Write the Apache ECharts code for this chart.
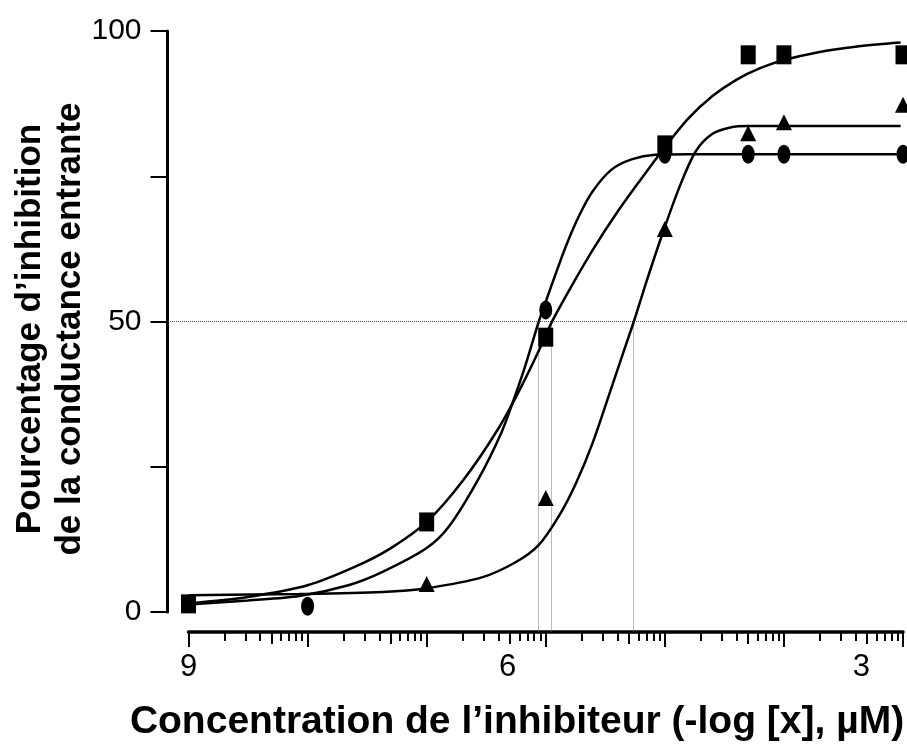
<!DOCTYPE html>
<html>
<head>
<meta charset="utf-8">
<script src="https://cdn.jsdelivr.net/npm/echarts@6/dist/echarts.min.js"></script>
<style>
  html, body { margin: 0; padding: 0; background: #fff; }
  #chart { width: 907px; height: 752px; }
</style>
</head>
<body>
<div id="chart"></div>
<script>
// -log concentration of the tested points
var doses = [9, 8, 7, 6, 5, 4.3, 4, 3];
// % inhibition, one value per dose (null = not visible)
var squareY   = [1.4, null, 15.5, 47.3, 80.4, 95.9, 95.9, 95.9];
var circleY   = [null, 1.0, null, 52.0, 78.8, 78.8, 78.8, 78.8];
var triangleY = [null, null, 4.8, 19.6, 65.9, 82.4, 84.3, 87.3];

// fitted curves [ -log, % ]
var squareFit = [[9.0,1.5],[8.5,2.6],[8.0,4.6],[7.6,7.8],[7.3,11.0],[7.0,15.5],[6.7,22.5],[6.4,31.5],
  [6.2,39.0],[6.0,47.5],[5.95,49.9],[5.8,55.5],[5.6,62.5],[5.4,68.8],[5.2,74.5],[5.0,80.0],
  [4.8,85.0],[4.6,88.8],[4.4,91.6],[4.2,93.6],[4.0,95.0],[3.7,96.4],[3.4,97.3],[3.02,98.0]];
var circleFit = [[9.0,1.3],[8.5,2.0],[8.07,2.75],[7.65,4.65],[7.37,6.9],[7.0,11.0],[6.81,14.8],
  [6.56,23.1],[6.37,31.0],[6.27,36.5],[6.17,42.5],[6.06,49.9],[6.0,53.4],[5.95,56.3],[5.83,63.0],
  [5.72,68.2],[5.61,72.3],[5.45,76.1],[5.28,77.9],[5.08,78.7],[4.8,78.8],[3.02,78.8]];
var triangleFit = [[9.0,2.9],[8.07,3.1],[7.37,3.45],[7.0,4.1],[6.53,6.0],[6.25,8.6],[6.06,11.5],[5.89,16.5],
  [5.75,22.0],[5.61,28.9],[5.45,38.5],[5.33,45.8],[5.26,50.0],[5.16,56.5],[5.03,64.5],[4.88,73.0],
  [4.74,79.3],[4.6,82.3],[4.45,83.4],[4.3,83.65],[3.99,83.65],[3.02,83.65]];

// dose giving 50 % for each curve (circle, square, triangle)
var ic50 = [6.06, 5.95, 5.26];
// 50 % guide line, from the y axis to the right edge
var halfLine = [[9.17, 50], [2.96, 50]];
var ic50Bottom = -3.44;

var xTickLabels = ['9', '6', '3'];
var xTickLabelAt = [9, 6.32, 3.35];
var yTickLabels = [0, 50, 100];

var font = 'Liberation Sans, Arial, sans-serif';

// log-decade ticks on the concentration axis
var majorTicks = [], midTicks = [], minorTicks = [];
for (var d = 9; d >= 3; d--) {
  majorTicks.push(d);
  if (d === 3) break;
  for (var k = 2; k <= 9; k++) {
    var v = d - Math.log10(k);
    if (k === 5) midTicks.push(v); else minorTicks.push(v);
  }
}

function pairs(ys) {
  var out = [];
  for (var i = 0; i < doses.length; i++) if (ys[i] != null) out.push([doses[i], ys[i]]);
  return out;
}

function xAxisBase() {
  return {
    type: 'value', min: 3, max: 9, inverse: true, position: 'bottom', offset: 20,
    splitLine: { show: false },
    axisLine: { show: false, onZero: false },
    axisLabel: { show: false },
    axisTick: { show: true, lineStyle: { color: '#000', width: 2 } }
  };
}

var ax0 = xAxisBase();
ax0.axisLine = { show: true, onZero: false, lineStyle: { color: '#000', width: 3.5 } };
ax0.axisTick.customValues = majorTicks;
ax0.axisTick.length = 15;
ax0.axisLabel = {
  show: true, customValues: xTickLabelAt, margin: 20, color: '#000',
  fontSize: 31, fontFamily: font,
  formatter: function (val) {
    for (var i = 0; i < xTickLabelAt.length; i++) if (Math.abs(val - xTickLabelAt[i]) < 1e-6) return xTickLabels[i];
    return '';
  }
};
var ax1 = xAxisBase();
ax1.axisTick.customValues = midTicks;
ax1.axisTick.length = 12;
var ax2 = xAxisBase();
ax2.axisTick.customValues = minorTicks;
ax2.axisTick.length = 9;

var curveStyle = { color: '#000', width: 2.5 };
var chart = echarts.init(document.getElementById('chart'));

var option = {
  animation: false,
  backgroundColor: '#fff',
  grid: { left: 188.5, right: 4, top: 31, bottom: 140, containLabel: false },
  xAxis: [ax0, ax1, ax2],
  yAxis: {
    type: 'value', min: 0, max: 100, interval: 25, offset: 21,
    splitLine: { show: false },
    axisLine: { show: true, onZero: false, lineStyle: { color: '#000', width: 3 } },
    axisTick: { show: true, length: 17, lineStyle: { color: '#000', width: 2 } },
    axisLabel: {
      margin: 26, color: '#000', fontSize: 30, fontFamily: font,
      formatter: function (v) { return yTickLabels.indexOf(v) >= 0 ? String(v) : ''; }
    }
  },
  series: [
    { type: 'line', smooth: 0.3, symbol: 'none', data: squareFit, lineStyle: curveStyle, z: 2 },
    { type: 'line', smooth: 0.3, symbol: 'none', data: circleFit, lineStyle: curveStyle, z: 2 },
    { type: 'line', smooth: 0.3, symbol: 'none', data: triangleFit, lineStyle: curveStyle, z: 2 },
    { type: 'scatter', clip: false, symbol: 'rect', symbolSize: [15, 19], data: pairs(squareY), itemStyle: { color: '#000', opacity: 1 }, z: 3 },
    { type: 'scatter', clip: false, symbol: 'circle', symbolSize: [13, 19], data: pairs(circleY), itemStyle: { color: '#000', opacity: 1 }, z: 3 },
    { type: 'scatter', clip: false, symbol: 'triangle', symbolSize: [16, 16], data: pairs(triangleY), itemStyle: { color: '#000', opacity: 1 }, z: 3 }
  ]
};
chart.setOption(option);

// guide lines reach past the plot area, so place them through the axes' own scale
function toPx(p) { return chart.convertToPixel({ xAxisIndex: 0, yAxisIndex: 0 }, p); }
var guides = [];
var h0 = toPx(halfLine[0]), h1 = toPx(halfLine[1]);
guides.push({
  type: 'line', z: 1, silent: true,
  shape: { x1: Math.round(h0[0]), y1: Math.floor(h0[1]) + 0.5, x2: Math.round(h1[0]), y2: Math.floor(h1[1]) + 0.5 },
  style: { stroke: '#ff0000', lineWidth: 1, lineDash: [1, 1] }
});
ic50.forEach(function (v) {
  var a = toPx([v, 50]), b = toPx([v, ic50Bottom]);
  guides.push({
    type: 'line', z: 1, silent: true,
    shape: { x1: Math.floor(a[0]) + 0.5, y1: a[1], x2: Math.floor(b[0]) + 0.5, y2: b[1] },
    style: { stroke: '#777', lineWidth: 1, lineDash: [1, 1] }
  });
});
guides.push({
  type: 'text', x: 50, y: 329, rotation: Math.PI / 2,
  style: {
    text: 'Pourcentage d\u2019inhibition\nde la conductance entrante',
    fontSize: 35, fontWeight: 'bold', fontFamily: font, fill: '#000',
    align: 'center', verticalAlign: 'middle', lineHeight: 40
  }
});
guides.push({
  type: 'text', x: 517, y: 722,
  style: {
    text: 'Concentration de l\u2019inhibiteur (-log [x], \u00b5M)',
    fontSize: 39, fontWeight: 'bold', fontFamily: font, fill: '#000',
    align: 'center', verticalAlign: 'middle'
  }
});
chart.setOption({ graphic: guides });
</script>
</body>
</html>
